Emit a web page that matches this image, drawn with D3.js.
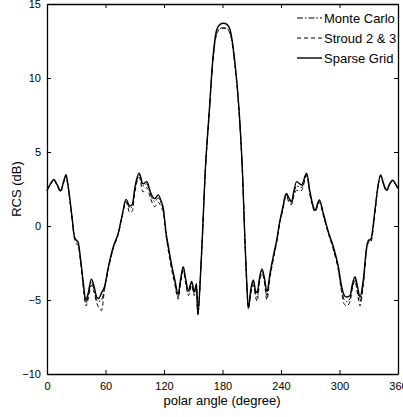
<!DOCTYPE html>
<html><head><meta charset="utf-8">
<script src="https://cdn.jsdelivr.net/npm/d3@7"></script>
<style>
html,body{margin:0;padding:0;background:#fff;}
svg{display:block;font-family:"Liberation Sans",Arial,Helvetica,sans-serif;}
</style></head>
<body>
<svg id="c" width="403" height="417"></svg>
<script>
const angles = [
 0,4,7,10,14,17,19.5,21,23.5,26,
 28,30,32,34,36.5,40,42,45.5,48,51,
 53,56,59,63,68,73,77,81,85,87.5,
 90,94.5,98.5,102.5,106,110.5,114,117,119.5,122,
 124.5,128,131,134.5,137,139.8,142,145,148.4,151,
 153.3,154.7,157.5,159.5,162,166.5,170,174,177.5,181,
 184.5,188,192.5,197,200.7,203,205,206.5,209,211.6,
 214,215.5,218,220.5,223,225.5,228.7,232,235.6,239,
 242,244,245.8,248,250.9,253,256,261,266.3,269.7,
 272,274.9,279.3,283.4,288.5,293.7,298.8,302.2,305,307.4,
 310.8,313,315.9,318.5,321,324.4,327.9,330,332,336.4,
 339,342.2,345,348.4,351,354.5,357,360];

const sparseGrid = [
 2.4,2.9,3.15,2.85,2.4,3.0,3.47,3.0,1.8,0.4,
 -0.7,-0.95,-1.1,-2.0,-3.4,-5.0,-4.6,-3.6,-4.0,-4.8,
 -4.9,-4.5,-4.1,-2.75,-1.4,-0.5,0.7,1.8,1.35,1.45,
 2.55,3.56,2.85,3.0,2.3,1.85,2.1,1.7,1.1,-0.4,
 -1.4,-2.7,-3.6,-4.6,-3.6,-2.75,-3.5,-4.35,-3.75,-4.45,
 -3.9,-6.0,-3.2,-0.5,3.3,7.84,11.2,13.24,13.62,13.7,
 13.62,13.2,11.2,7.84,3.33,-0.95,-4.0,-5.56,-4.3,-3.65,
 -4.4,-4.5,-3.5,-2.9,-3.5,-4.43,-3.2,-2.07,-0.95,0.4,
 1.3,1.98,2.2,1.9,1.64,2.3,3.0,2.77,3.56,2.32,
 1.6,1.08,1.76,0.86,-0.38,-1.4,-2.75,-4.1,-4.7,-4.8,
 -4.7,-4.0,-3.42,-4.1,-4.8,-3.65,-1.4,-0.95,-0.9,1.08,
 2.5,3.45,2.9,2.43,2.8,3.1,2.9,2.55];

const stroud = [
 2.4,2.85,3.1,2.8,2.3,2.9,3.4,2.9,1.7,0.3,
 -0.8,-1.2,-1.3,-2.2,-3.7,-5.4,-5.0,-4.0,-4.4,-5.2,
 -5.5,-5.7,-4.3,-2.9,-1.5,-0.6,0.6,1.6,0.9,1.0,
 2.2,3.3,2.3,2.6,1.9,1.3,1.6,1.3,0.8,-0.6,
 -1.7,-3.0,-3.9,-4.95,-3.9,-3.0,-3.8,-4.7,-4.0,-4.7,
 -4.1,-6.0,-3.3,-0.6,3.2,7.7,11.0,12.95,13.3,13.35,
 13.3,12.95,11.0,7.7,3.2,-1.0,-4.1,-5.56,-4.6,-4.0,
 -4.8,-5.1,-3.8,-3.2,-3.8,-5.0,-3.5,-2.3,-1.1,0.3,
 1.1,1.8,2.0,1.6,1.45,2.0,2.4,2.4,3.4,2.1,
 1.4,0.95,1.6,0.7,-0.5,-1.6,-3.0,-4.5,-5.3,-5.4,
 -5.1,-4.3,-3.7,-4.6,-5.4,-4.0,-1.6,-1.1,-1.1,0.9,
 2.4,3.4,2.8,2.35,2.7,3.05,2.85,2.5];

const monteCarlo = [
 2.4,2.9,3.1,2.8,2.35,2.95,3.4,2.95,1.75,0.35,
 -0.75,-1.0,-1.2,-2.1,-3.5,-5.2,-4.8,-3.8,-4.2,-5.0,
 -5.1,-5.0,-4.2,-2.8,-1.45,-0.55,0.65,1.7,1.2,1.3,
 2.4,3.45,2.7,2.85,2.15,1.65,1.9,1.55,1.0,-0.5,
 -1.5,-2.8,-3.75,-4.8,-3.75,-2.85,-3.65,-4.5,-3.9,-4.55,
 -4.0,-6.0,-3.25,-0.55,3.25,7.75,11.1,13.05,13.35,13.4,
 13.35,13.0,11.1,7.75,3.25,-1.0,-4.05,-5.56,-4.45,-3.8,
 -4.6,-4.8,-3.65,-3.05,-3.65,-4.7,-3.35,-2.2,-1.0,0.35,
 1.2,1.9,2.1,1.75,1.55,2.15,2.7,2.6,3.48,2.2,
 1.5,1.0,1.7,0.8,-0.45,-1.5,-2.85,-4.3,-5.0,-5.1,
 -4.9,-4.15,-3.55,-4.35,-5.1,-3.8,-1.5,-1.0,-1.0,1.0,
 2.45,3.4,2.85,2.4,2.75,3.05,2.85,2.5];

const xTicks = [0,60,120,180,240,300,360];
const yTicks = [-10,-5,0,5,10,15];
const seriesNames = ["Monte Carlo","Stroud 2 & 3","Sparse Grid"];
const xLabel = "polar angle (degree)";
const yLabel = "RCS (dB)";

const svg = d3.select("#c");
const x = d3.scaleLinear().domain([0,360]).range([47,398]);
const y = d3.scaleLinear().domain([-10,15]).range([374,4]);

const fmt = v => (v<0 ? "\u2212"+Math.abs(v) : String(v));

// axes (ticks inward, MATLAB style)
const gB = svg.append("g").attr("transform",`translate(0,${y(-10)})`)
  .call(d3.axisBottom(x).tickValues(xTicks).tickSizeInner(-4).tickSizeOuter(0).tickPadding(8).tickFormat(fmt));
const gT = svg.append("g").attr("transform",`translate(0,${y(15)})`)
  .call(d3.axisTop(x).tickValues(xTicks).tickSizeInner(-4).tickSizeOuter(0).tickFormat(""));
const gL = svg.append("g").attr("transform",`translate(${x(0)},0)`)
  .call(d3.axisLeft(y).tickValues(yTicks).tickSizeInner(-4).tickSizeOuter(0).tickPadding(6).tickFormat(fmt));
const gR = svg.append("g").attr("transform",`translate(${x(360)},0)`)
  .call(d3.axisRight(y).tickValues(yTicks).tickSizeInner(-4).tickSizeOuter(0).tickFormat(""));
[gB,gT,gL,gR].forEach(g=>{
  g.selectAll("path.domain").attr("stroke","#000").attr("stroke-width",1.3);
  g.selectAll("line").attr("stroke","#000");
  g.selectAll("text").attr("font-size",11).attr("fill","#000")
   .attr("font-family","'Liberation Sans',Arial,sans-serif");
});

const line = d3.line().x((d,i)=>x(angles[i])).y(d=>y(d)).curve(d3.curveMonotoneX);
const styles = [
  {data:monteCarlo, dash:"6,2,1.5,2", w:1},
  {data:stroud, dash:"4,3", w:1},
  {data:sparseGrid, dash:null, w:1.4}
];
styles.forEach(s=>{
  svg.append("path").datum(s.data).attr("d",line)
    .attr("fill","none").attr("stroke","#000").attr("stroke-width",s.w)
    .attr("stroke-dasharray",s.dash);
});

// legend
const lg = svg.append("g");
seriesNames.forEach((n,i)=>{
  const yy = 18 + i*20;
  lg.append("line").attr("x1",297).attr("x2",322).attr("y1",yy).attr("y2",yy)
    .attr("stroke","#000").attr("stroke-width",styles[i].w)
    .attr("stroke-dasharray",styles[i].dash);
  lg.append("text").attr("x",324).attr("y",yy).attr("dy","0.36em")
    .attr("font-size",13).text(n);
});

svg.append("text").attr("x",222).attr("y",405).attr("text-anchor","middle")
  .attr("font-size",13).text(xLabel);
svg.append("text").attr("transform","translate(21,189) rotate(-90)")
  .attr("text-anchor","middle").attr("font-size",13).text(yLabel);
</script>
</body></html>
